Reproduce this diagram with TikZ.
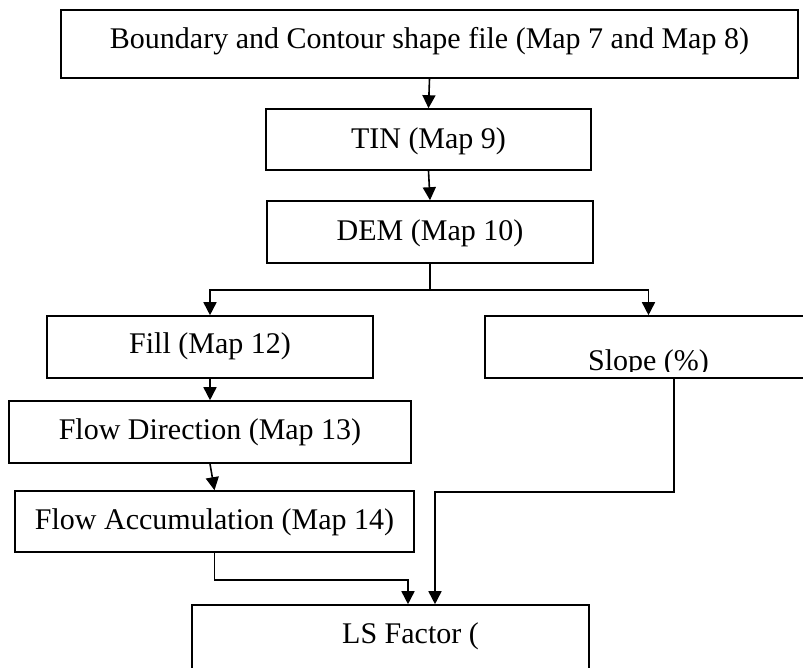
\documentclass[tikz,border=0pt]{standalone}
\usepackage{fontspec}
\setmainfont{Liberation Serif}
\usetikzlibrary{arrows.meta}
\begin{document}
\begin{tikzpicture}[x=1pt,y=-1pt,
  box/.style={draw, line width=1.6pt, rectangle, inner sep=0pt},
  lbl/.style={font=\fontsize{30}{36}\selectfont, inner sep=0pt, anchor=base},
  link/.style={line width=1.6pt, -{Triangle[length=13pt,width=13pt]}},
  wire/.style={line width=1.6pt}]
\clip (0,0) rectangle (803,667);

% boxes
\node[box, minimum width=737pt, minimum height=68pt] (top) at (429.5,44) {};
\node[box, minimum width=325pt, minimum height=61pt] (tin) at (428.5,139.5) {};
\node[box, minimum width=326pt, minimum height=62pt] (dem) at (430,232) {};
\node[box, minimum width=326pt, minimum height=62pt] (fill) at (210,347) {};
\node[box, minimum width=327pt, minimum height=62pt] (slope) at (648.5,347) {};
\node[box, minimum width=402pt, minimum height=62pt] (flowdir) at (210,432) {};
\node[box, minimum width=399pt, minimum height=61pt] (flowacc) at (214.5,521.5) {};
\node[box, minimum width=397pt, minimum height=100pt] (ls) at (390.5,655) {};

% labels
\node[lbl] (top-t) at (429.5,48) {Boundary and Contour shape file (Map 7 and Map 8)};
\node[lbl] (tin-t) at (428.5,148) {TIN (Map 9)};
\node[lbl] (dem-t) at (430,240) {DEM (Map 10)};
\node[lbl] (fill-t) at (210,353) {Fill (Map 12)};
\node[lbl] (flowdir-t) at (210,439) {Flow Direction (Map 13)};
\node[lbl] (flowacc-t) at (214.5,529) {Flow Accumulation (Map 14)};
\node[lbl, anchor=base west] (ls-t) at (342,643) {LS Factor (};
\begin{scope}
  \clip (485,316) rectangle (812,371);
  \node[lbl] (slope-t) at (648.5,370) {Slope (\%)};
\end{scope}

% connectors
\draw[link] (top.south) -- (tin.north);
\draw[link] (tin.south) -- (dem.north);
\draw[link] (dem.south) -- ++(0,26) -| (fill.north);
\draw[link] (dem.south) -- ++(0,26) -| (slope.north);
\draw[link] (fill.south) -- (flowdir.north);
\draw[link] (flowdir.south) -- (flowacc.north);
\draw[link] (flowacc.south) -- ++(0,27) -| ([xshift=17.5pt]ls.north);
\draw[link] ([xshift=25.5pt]slope.south) -- ++(0,113) -| ([xshift=44.5pt]ls.north);
\end{tikzpicture}
\end{document}
